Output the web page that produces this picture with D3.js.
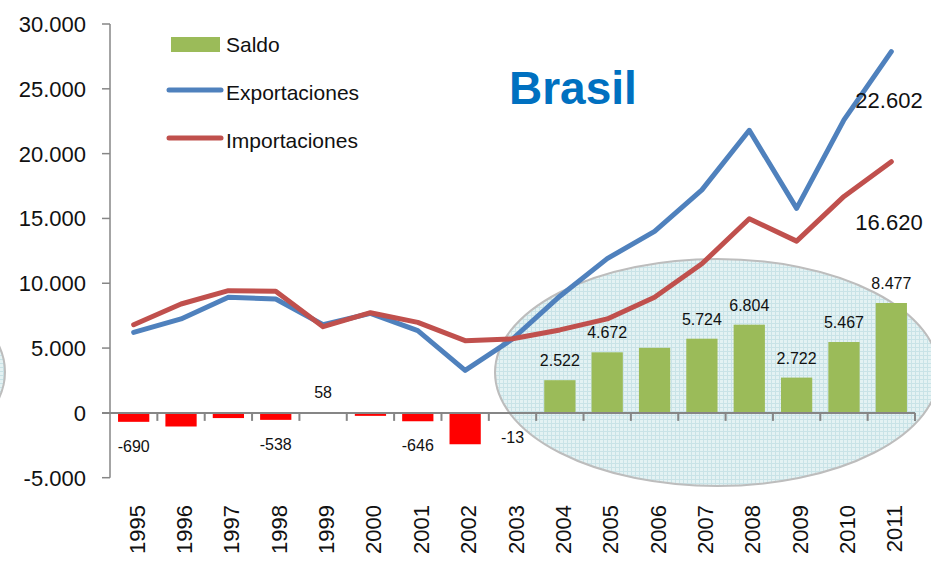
<!DOCTYPE html>
<html lang="es">
<head>
  <meta charset="UTF-8" />
  <title>Brasil - Saldo, Exportaciones, Importaciones</title>
  <style>
    body {
      margin: 0;
      background: #fff;
      font-family: 'Liberation Sans', Arial, sans-serif;
    }
    svg { display: block; }
    .lbl { font-size: 16px; fill: #111; }
    .tick-y { font-size: 22px; fill: #111; }
    .tick-x { font-size: 22px; fill: #111; }
    .legend text { font-size: 21px; fill: #111; }
  </style>
</head>
<body>
  <svg width="931" height="568"></svg>

  <script src="https://d3js.org/d3.v7.min.js"></script>
  <script>
    // --- data (US$ millones)
    const years = ["1995","1996","1997","1998","1999","2000","2001","2002","2003",
                   "2004","2005","2006","2007","2008","2009","2010","2011"];
    const exportaciones = [6210, 7250, 8920, 8790, 6800, 7680, 6340, 3280, 5700,
                           9000, 11900, 14000, 17200, 21800, 15780, 22600, 27870];
    const importaciones = [6800, 8400, 9430, 9380, 6650, 7730, 6980, 5570, 5713,
                           6400, 7250, 8920, 11500, 14980, 13250, 16700, 19380];
    const saldo = [-690, -1050, -400, -538, 58, -230, -646, -2420, -13,
                   2522, 4672, 5020, 5724, 6804, 2722, 5467, 8477];
    const saldoLabel = [true, false, false, true, true, false, true, false, true,
                        true, true, false, true, true, true, true, true];
    const yTicks = [-5000, 0, 5000, 10000, 15000, 20000, 25000, 30000];
    const annotations = ["22.602", "16.620"];

    const fmt = d3.formatLocale({ decimal: ",", thousands: ".", grouping: [3],
                                  currency: ["", ""], minus: "-" }).format(",d");

    const svg = d3.select("svg");
    const plotLeft = 110, plotRight = 915, plotTop = 24, plotBottom = 477.7;

    const x = d3.scaleBand().domain(years).range([plotLeft, plotRight])
      .paddingInner(0.34).paddingOuter(0.17);
    const y = d3.scaleLinear().domain([-5000, 30000]).range([plotBottom, plotTop]);
    const cx = d => x(d) + x.bandwidth() / 2;
    const edge = d => x(d) - (x.step() - x.bandwidth()) / 2;

    // --- background ellipses (highlight)
    const defs = svg.append("defs");
    const pat = defs.append("pattern").attr("id", "dots")
      .attr("width", 4).attr("height", 4).attr("patternUnits", "userSpaceOnUse");
    pat.append("rect").attr("width", 4).attr("height", 4).attr("fill", "#e4f2f3");
    pat.append("path").attr("d", "M0,3.5H4M3.5,0V4").attr("stroke", "#c9e3e7").attr("stroke-width", 1);

    svg.append("ellipse").attr("cx", -217).attr("cy", 372).attr("rx", 222).attr("ry", 113)
      .attr("fill", "url(#dots)").attr("stroke", "#bdbdbd").attr("stroke-width", 2);
    svg.append("ellipse").attr("cx", 717).attr("cy", 372.5).attr("rx", 222).attr("ry", 113.5)
      .attr("fill", "url(#dots)").attr("stroke", "#bdbdbd").attr("stroke-width", 2);

    // --- y axis
    const yAxis = svg.append("g");
    yAxis.append("line").attr("x1", plotLeft).attr("x2", plotLeft)
      .attr("y1", y(30000)).attr("y2", y(-5000))
      .attr("stroke", "#868686").attr("stroke-width", 1.5);
    yAxis.selectAll(".yt").data(yTicks).join("line")
      .attr("class", "yt")
      .attr("x1", plotLeft - 8).attr("x2", plotLeft)
      .attr("y1", d => y(d)).attr("y2", d => y(d))
      .attr("stroke", "#868686").attr("stroke-width", 1.5);
    yAxis.selectAll("text").data(yTicks).join("text")
      .attr("class", "tick-y")
      .attr("x", 86).attr("y", d => y(d) + 8)
      .attr("text-anchor", "end")
      .text(d => fmt(d));

    // --- bars
    svg.selectAll(".bar").data(years).join("rect")
      .attr("class", "bar")
      .attr("x", d => x(d))
      .attr("width", x.bandwidth())
      .attr("y", (d, i) => y(Math.max(0, saldo[i])))
      .attr("height", (d, i) => Math.abs(y(saldo[i]) - y(0)))
      .attr("fill", (d, i) => saldo[i] < 0 ? "#ff0000" : "#9bbb59");

    // --- x axis line + ticks at band edges
    const xAxis = svg.append("g");
    xAxis.append("line").attr("x1", plotLeft - 8).attr("x2", plotRight)
      .attr("y1", y(0)).attr("y2", y(0))
      .attr("stroke", "#868686").attr("stroke-width", 2);
    xAxis.selectAll(".xt").data(years.slice(1).concat(["end"])).join("line")
      .attr("class", "xt")
      .attr("x1", d => d === "end" ? plotRight : edge(d))
      .attr("x2", d => d === "end" ? plotRight : edge(d))
      .attr("y1", y(0)).attr("y2", y(0) + 8)
      .attr("stroke", "#868686").attr("stroke-width", 2);
    xAxis.selectAll("text").data(years).join("text")
      .attr("class", "tick-x")
      .attr("transform", d => `translate(${cx(d) + 11},505) rotate(-90)`)
      .attr("text-anchor", "end")
      .text(d => d);

    // --- lines
    const line = d3.line().x(d => cx(d[0])).y(d => y(d[1]));
    const series = [
      { values: exportaciones, color: "#4f81bd" },
      { values: importaciones, color: "#c0504d" }
    ];
    svg.selectAll(".series").data(series).join("path")
      .attr("class", "series")
      .attr("d", s => line(years.map((yr, i) => [yr, s.values[i]])))
      .attr("fill", "none")
      .attr("stroke", s => s.color)
      .attr("stroke-width", 5)
      .attr("stroke-linejoin", "round")
      .attr("stroke-linecap", "round");

    // --- saldo labels
    svg.selectAll(".lbl").data(years.filter((d, i) => saldoLabel[i])).join("text")
      .attr("class", "lbl")
      .attr("x", d => cx(d))
      .attr("y", d => {
        const v = saldo[years.indexOf(d)];
        return v < 0 ? y(v) + 30 : y(v) - 14;
      })
      .attr("text-anchor", "middle")
      .text(d => fmt(saldo[years.indexOf(d)]));

    // --- annotations on the right
    svg.selectAll(".anno").data(annotations).join("text")
      .attr("class", "anno")
      .attr("x", 889).attr("y", (d, i) => i === 0 ? 108 : 230)
      .attr("text-anchor", "middle")
      .style("font-size", "22px").attr("fill", "#111")
      .text(d => d);

    // --- title
    svg.append("text").attr("x", 509).attr("y", 104)
      .style("font-size", "46px").style("font-weight", "bold")
      .attr("fill", "#0070c0").text("Brasil");

    // --- legend
    const lg = svg.append("g").attr("class", "legend");
    lg.append("rect").attr("x", 171).attr("y", 37).attr("width", 49).attr("height", 15).attr("fill", "#9bbb59");
    lg.append("text").attr("x", 226).attr("y", 52).text("Saldo");
    lg.append("line").attr("x1", 169).attr("x2", 221).attr("y1", 90).attr("y2", 90)
      .attr("stroke", "#4f81bd").attr("stroke-width", 5).attr("stroke-linecap", "round");
    lg.append("text").attr("x", 226).attr("y", 100).text("Exportaciones");
    lg.append("line").attr("x1", 169).attr("x2", 221).attr("y1", 138).attr("y2", 138)
      .attr("stroke", "#c0504d").attr("stroke-width", 5).attr("stroke-linecap", "round");
    lg.append("text").attr("x", 226).attr("y", 148).text("Importaciones");
  </script>
</body>
</html>
